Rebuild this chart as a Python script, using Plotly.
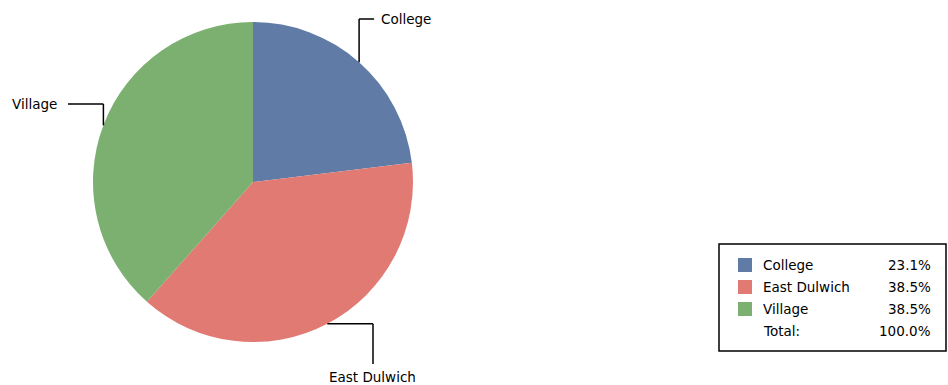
import math
import plotly.graph_objects as go

# Data
categories = ["College", "East Dulwich", "Village"]
counts = [3, 5, 5]
colors = ["#607ca6", "#e07a72", "#7cb071"]

W, H = 948, 385
CX, CY, R = 253, 182, 160  # pie centre and radius in pixels

total = sum(counts)
shares = [c / total * 100 for c in counts]

fig = go.Figure()
fig.add_trace(go.Pie(
    labels=categories,
    values=counts,
    marker=dict(colors=colors, line=dict(width=0)),
    sort=False,
    direction="clockwise",
    rotation=0,
    textinfo="none",
    hoverinfo="label+percent",
    showlegend=False,
    domain=dict(x=[(CX - R) / W, (CX + R) / W],
                y=[(H - CY - R) / H, (H - CY + R) / H]),
))

FONT = dict(family="DejaVu Sans, sans-serif", size=13.5, color="#000000")

def px(x, y):
    return x / W, 1 - y / H

shapes = []
annotations = []

def line(x0, y0, x1, y1, width=1.5, color="#000000"):
    a = px(x0, y0)
    b = px(x1, y1)
    shapes.append(dict(type="line", xref="paper", yref="paper",
                       x0=a[0], y0=a[1], x1=b[0], y1=b[1],
                       line=dict(color=color, width=width)))

def text(x, y, s, xanchor="left"):
    p = px(x, y)
    annotations.append(dict(xref="paper", yref="paper", x=p[0], y=p[1],
                            text=s, showarrow=False, xanchor=xanchor,
                            yanchor="middle", font=FONT,
                            xshift=(-2 if xanchor == "left" else 2 if xanchor == "right" else 0)))

# Leader lines from the middle of each slice's outer edge
cum = 0
mids = []
for c in counts:
    mid = (cum + c / 2) / total * 2 * math.pi
    mids.append((CX + R * math.sin(mid), CY - R * math.cos(mid)))
    cum += c

# College: up then right
ex, ey = mids[0]
line(ex, ey, ex, 19)
line(ex, 19, ex + 15, 19)
text(ex + 22, 19, categories[0])

# East Dulwich: right then down
ex, ey = mids[1]
line(ex, ey, 373, ey)
line(373, ey, 373, 364)
text(372, 377, categories[1], xanchor="center")

# Village: up then left
ex, ey = mids[2]
line(ex, ey, ex, 104)
line(ex, 104, 68, 104)
text(57, 104, categories[2], xanchor="right")

# Legend box with shares
b0 = px(719, 244)
b1 = px(946, 351)
shapes.append(dict(type="rect", xref="paper", yref="paper",
                   x0=b0[0], y0=b1[1], x1=b1[0], y1=b0[1],
                   line=dict(color="#000000", width=1.5), fillcolor="rgba(0,0,0,0)"))

row_y = [265, 287, 309, 331]
for i, (cat, share, col) in enumerate(zip(categories, shares, colors)):
    y = row_y[i]
    s0 = px(738, y - 7)
    s1 = px(752, y + 7)
    shapes.append(dict(type="rect", xref="paper", yref="paper",
                       x0=s0[0], y0=s1[1], x1=s1[0], y1=s0[1],
                       line=dict(width=0), fillcolor=col))
    text(763, y, cat)
    text(931, y, f"{share:.1f}%", xanchor="right")

text(763, row_y[3], "Total:")
text(931, row_y[3], f"{sum(shares):.1f}%", xanchor="right")

fig.update_layout(
    width=W, height=H,
    margin=dict(l=0, r=0, t=0, b=0),
    paper_bgcolor="#ffffff",
    plot_bgcolor="#ffffff",
    shapes=shapes,
    annotations=annotations,
)

fig.write_html("out.html")
